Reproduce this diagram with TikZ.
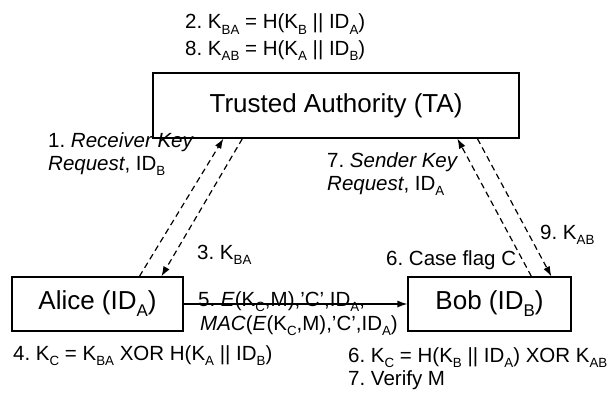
\documentclass[tikz,border=0pt]{standalone}
\usepackage{fontspec}
\usepackage{graphicx}
\setmainfont{Liberation Sans}
\usetikzlibrary{arrows.meta,calc}
\newcommand{\sbs}[1]{\raisebox{-0.27em}{\scalebox{0.65}{#1}}}
\frenchspacing
\begin{document}
\begin{tikzpicture}[x=1bp,y=-1bp,
  box/.style={draw, line width=1.2bp, inner sep=0pt, font=\fontsize{26bp}{30bp}\selectfont},
  note/.style={inner sep=0pt, anchor=base west, align=left, font=\fontsize{20.5bp}{22.5bp}\selectfont},
  dasharrow/.style={line width=1.2bp, dash pattern=on 6bp off 4bp, -{Latex[length=10bp,width=7bp]}},
  msg/.style={line width=1.2bp, -{Latex[length=10bp,width=7bp]}}]
\useasboundingbox (0,0) rectangle (611,396);
\node[box, minimum width=366bp, minimum height=65bp] (ta) at (336,105.5) {Trusted Authority (TA)};
\node[box, minimum width=171bp, minimum height=54bp] (alice) at (97.5,304) {Alice (ID\sbs{A})};
\node[box, minimum width=163bp, minimum height=54bp] (bob) at (489.5,304) {Bob (ID\sbs{B})};
% annotations
\node[note] (n2) at (185,28.5) {2. K\sbs{BA} = H(K\sbs{B} || ID\sbs{A})};
\node[note] (n8) at (185,55) {8. K\sbs{AB} = H(K\sbs{A} || ID\sbs{B})};
\node[note] (n1) at (48,170) {1. \textit{Receiver Key}\\\textit{Request}, ID\sbs{B}};
\node[note] (n7) at (327,190) {7. \textit{Sender Key}\\\textit{Request}, ID\sbs{A}};
\node[note] (n3) at (197,259) {3. K\sbs{BA}};
\node[note] (n6c) at (386,265) {6. Case flag C};
\node[note] (n9) at (540,239) {9. K\sbs{AB}};
\node[note] (n5) at (198,306) {5. \textit{E}(K\sbs{C},M),'C',ID\sbs{A},};
\node[note] (nmac) at (200,330) {\textit{MAC}(\textit{E}(K\sbs{C},M),'C',ID\sbs{A})};
\node[note] (n4) at (13,360) {4. K\sbs{C} = K\sbs{BA} XOR H(K\sbs{A} || ID\sbs{B})};
\node[note] (n6) at (348,362) {6. K\sbs{C} = H(K\sbs{B} || ID\sbs{A}) XOR K\sbs{AB}};
\node[note] (nv) at (348,385) {7. Verify M};
% connectors
\draw[dasharrow] ([xshift=128bp]alice.north west) -- ([xshift=71bp]ta.south west);
\draw[dasharrow] ([xshift=90bp]ta.south west) -- ([xshift=150bp]alice.north west);
\draw[dasharrow] ([xshift=124bp]bob.north west) -- ([xshift=305bp]ta.south west);
\draw[dasharrow] ([xshift=325bp]ta.south west) -- ([xshift=144bp]bob.north west);
\draw[msg] (alice.east) -- (bob.west);
\end{tikzpicture}
\end{document}
